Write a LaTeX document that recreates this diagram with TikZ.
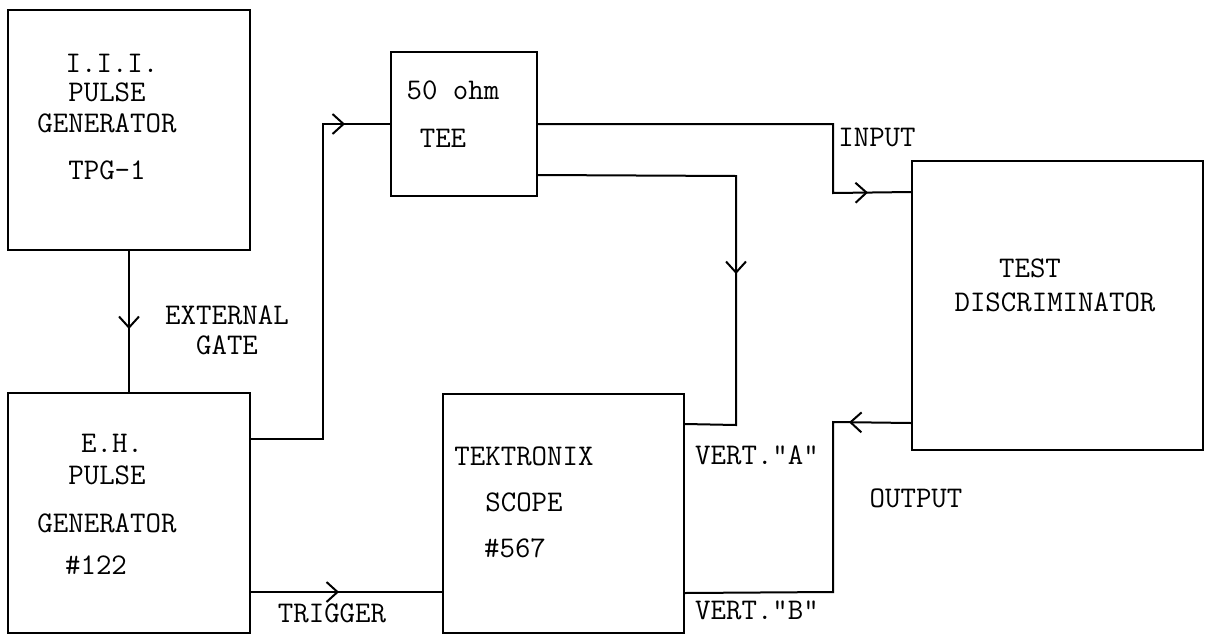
\documentclass[tikz,border=0pt]{standalone}
\usetikzlibrary{arrows.meta,decorations.markings,calc}
\begin{document}
\begin{tikzpicture}[x=1pt,y=-1pt,
  box/.style={draw, line width=2pt, inner sep=0pt},
  lbl/.style={font=\fontsize{30}{34}\selectfont\ttfamily, inner sep=0pt, text height=18pt, text depth=0pt, anchor=center},
  conn/.style={line width=2pt, line join=miter},
  am/.style={postaction={decorate},decoration={markings,mark=at position #1 with {\arrow{Straight Barb[length=11pt,width=20pt,line width=2pt]}}}}]
\useasboundingbox (0,0) rectangle (1207,635);
% boxes
\node[box, minimum width=242pt, minimum height=240pt] (iii) at (129,130) {};
\node[box, minimum width=242pt, minimum height=240pt] (eh) at (129,513) {};
\node[box, minimum width=146pt, minimum height=144pt] (tee) at (464,124) {};
\node[box, minimum width=241pt, minimum height=239pt] (scope) at (563.5,513.5) {};
\node[box, minimum width=291pt, minimum height=289pt] (disc) at (1057.5,305.5) {};
% box texts
\node[lbl] (t1) at (112,63) {I.I.I.};
\node[lbl] (t2) at (107,92) {PULSE};
\node[lbl] (t3) at (107,123) {GENERATOR};
\node[lbl] (t4) at (107,170) {TPG-1};
\node[lbl] (e1) at (112,443) {E.H.};
\node[lbl] (e2) at (107,475) {PULSE};
\node[lbl] (e3) at (107,523) {GENERATOR};
\node[lbl] (e4) at (96,565) {\#122};
\node[lbl] (tee1) at (453,90) {50 ohm};
\node[lbl] (tee2) at (443,138) {TEE};
\node[lbl] (s1) at (524,456) {TEKTRONIX};
\node[lbl] (s2) at (524,502) {SCOPE};
\node[lbl] (s3) at (515,548) {\#567};
\node[lbl] (d1) at (1030,268) {TEST};
\node[lbl] (d2) at (1055,302) {DISCRIMINATOR};
% connector labels
\node[lbl] (lx1) at (227,315) {EXTERNAL};
\node[lbl] (lx2) at (227,345) {GATE};
\node[lbl] (ltr) at (332,613) {TRIGGER};
\node[lbl] (lin) at (877,137) {INPUT};
\node[lbl] (lva) at (757,455) {VERT."A"};
\node[lbl] (lvb) at (757,610) {VERT."B"};
\node[lbl] (lout) at (916,498) {OUTPUT};
% connectors
\draw[conn, am=78pt] (iii.south) -- (eh.north);
\draw[conn, am=409pt] ([yshift=-47pt]eh.north east) -| (323,124) -- (tee.west);
\draw[conn, am=399pt] (tee.east) -- (833,124) -- (833,193) -- ([yshift=-32pt]disc.north west);
\draw[conn, am=296pt] ([yshift=-124pt]tee.north east) -- (736,176) -- (736,425) -- ([yshift=-31pt]scope.north east);
\draw[conn, am=88pt] ([yshift=42pt]eh.south east) -- ([yshift=42pt]scope.south west);
\draw[conn, am=62pt] ([yshift=28pt]disc.south west) -- (833,422) -- (833,592) -- ([yshift=41pt]scope.south east);
\end{tikzpicture}
\end{document}
